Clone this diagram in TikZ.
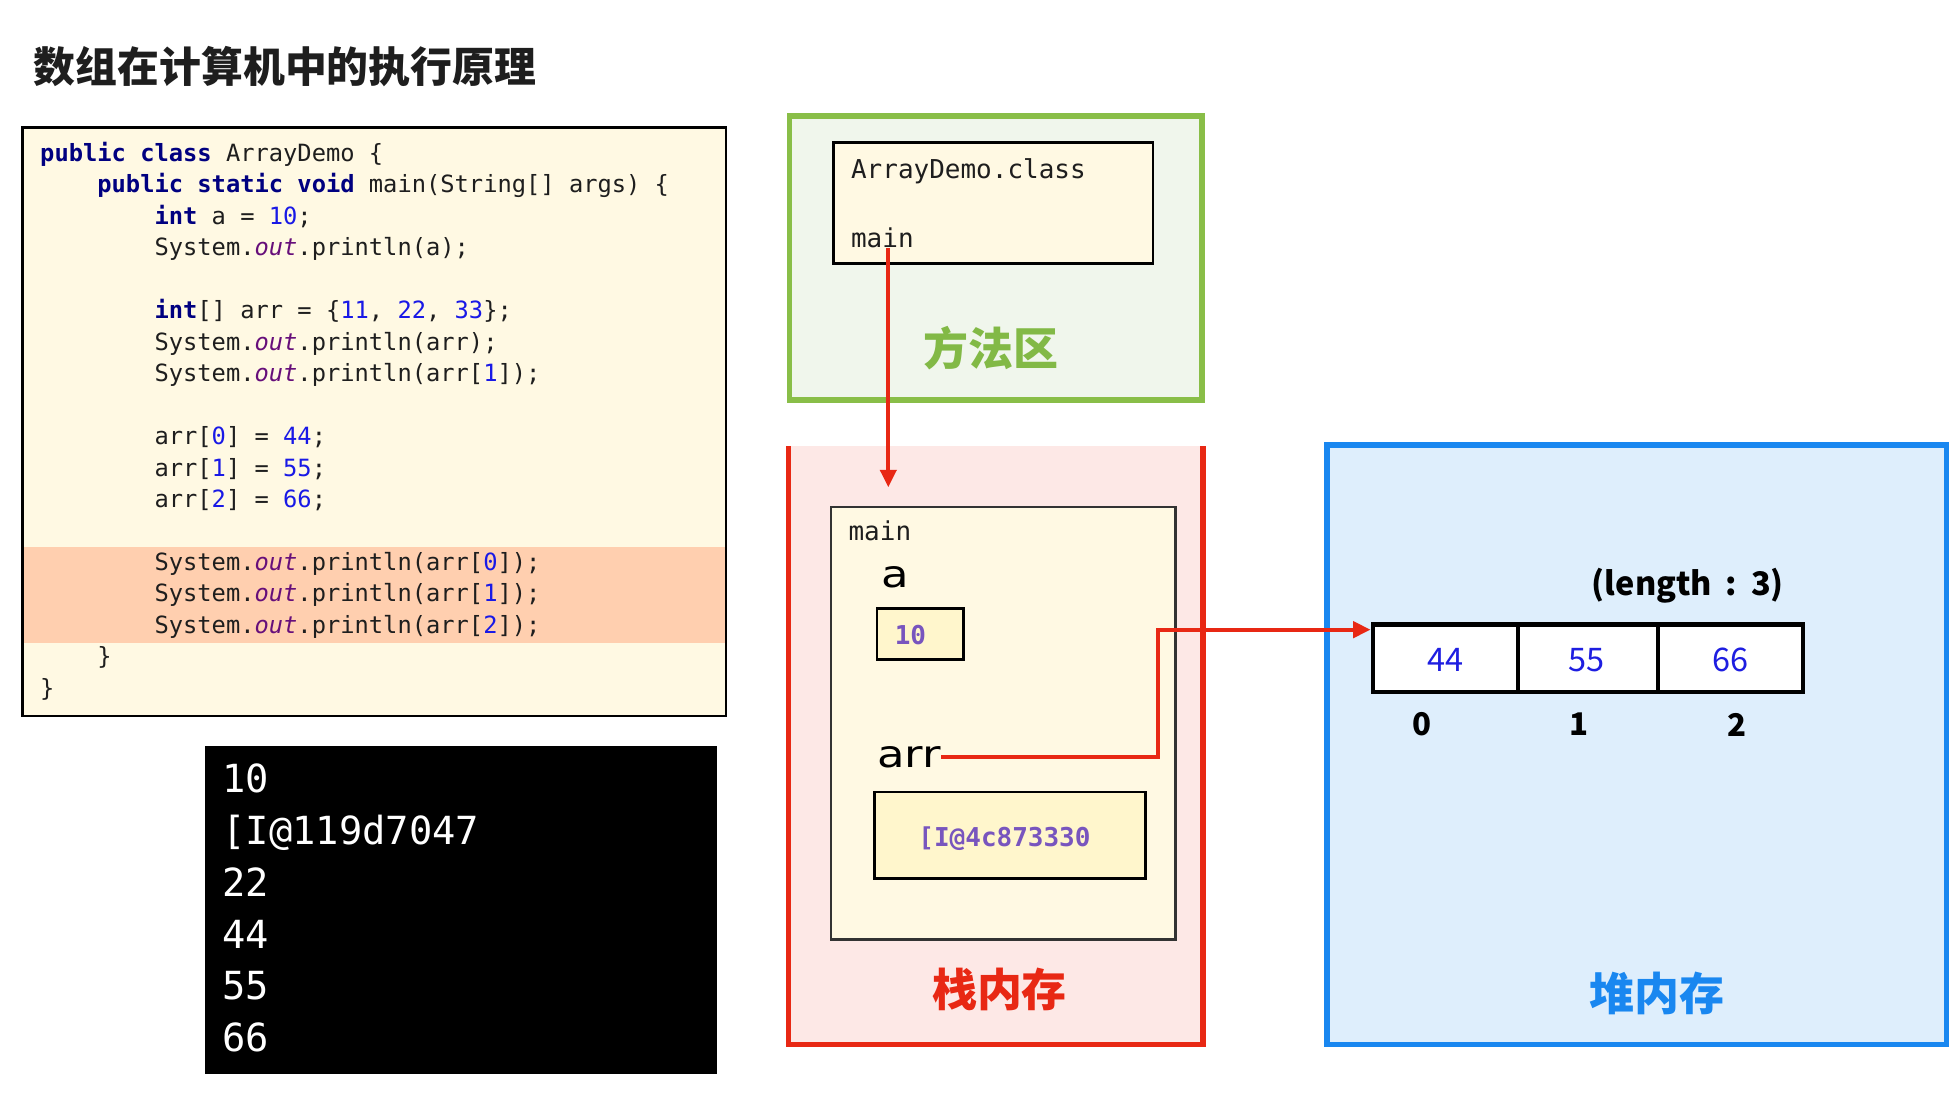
\documentclass[tikz,border=0pt]{standalone}
\usepackage{fontspec}
\setmainfont{DejaVu Sans}
\newfontfamily\cjk{Noto Sans CJK SC}
\newfontfamily\mono{DejaVu Sans Mono}
\newfontfamily\varfont{DejaVu Sans}[FakeStretch=1.2]
\usetikzlibrary{arrows.meta}
\definecolor{kwc}{RGB}{0,0,128}
\definecolor{numc}{RGB}{25,25,230}
\definecolor{outc}{RGB}{102,14,122}
\definecolor{txtc}{RGB}{30,30,30}
\definecolor{codefill}{RGB}{255,249,227}
\definecolor{hlfill}{RGB}{255,207,175}
\definecolor{greenc}{RGB}{137,190,72}
\definecolor{greenfill}{RGB}{240,246,236}
\definecolor{greentxt}{RGB}{130,185,70}
\definecolor{redc}{RGB}{232,40,20}
\definecolor{redfill}{RGB}{253,232,230}
\definecolor{bluec}{RGB}{25,135,240}
\definecolor{bluefill}{RGB}{222,238,252}
\definecolor{valfill}{RGB}{255,246,204}
\definecolor{purplec}{RGB}{120,85,190}
\definecolor{cellnum}{RGB}{30,30,225}
\newcommand\kw[1]{\textcolor{kwc}{\bfseries #1}}
\newcommand\num[1]{\textcolor{numc}{#1}}
\newcommand\fo{\textcolor{outc}{\itshape out}}
\newcommand\codeln[3]{\node[codestyle, anchor=base west] (cl#1) at ({32+#2*11.44},{129+(#1-1)*25.2}) {#3};}
\newcommand\conln[2]{\node[constyle, anchor=base west] (con#1) at (178,{634+(#1-1)*41.6}) {#2};}
\tikzset{
  plainbox/.style={rectangle, inner sep=0pt, outer sep=0pt, anchor=north west},
  codestyle/.style={inner sep=0pt, font=\mono\fontsize{19}{22}\selectfont, text=txtc},
  constyle/.style={inner sep=0pt, font=\mono\fontsize{31}{36}\selectfont, text=white},
  smallmono/.style={inner sep=0pt, font=\mono\fontsize{20.8}{24}\selectfont, text=txtc},
  valmono/.style={inner sep=0pt, font=\mono\bfseries\fontsize{20.8}{24}\selectfont, text=purplec},
  varlabel/.style={inner sep=0pt, font=\varfont\fontsize{30}{34}\selectfont, text=black},
  areatitle/.style={inner sep=0pt, font=\cjk\bfseries\fontsize{36}{40}\selectfont},
  redarrow/.style={draw=redc, line width=3pt, -{Triangle[length=14pt,width=13pt]}},
  cellval/.style={inner sep=0pt, font=\cjk\fontsize{26}{30}\selectfont, text=cellnum},
  idxlabel/.style={inner sep=0pt, font=\cjk\bfseries\fontsize{25}{30}\selectfont},
}
\begin{document}
\begin{tikzpicture}[x=1pt,y=-1pt]
\useasboundingbox (0,0) rectangle (1568,882);
\fill[white] (0,0) rectangle (1568,882);
% title
\node[inner sep=0pt, anchor=west, font=\cjk\bfseries\fontsize{33.5}{38}\selectfont, text=txtc] (title) at (27,53) {数组在计算机中的执行原理};
% code box
\node[plainbox, fill=codefill, minimum width=563pt, minimum height=471pt] (code) at (18,102) {};
\node[plainbox, fill=hlfill, minimum width=563pt, minimum height=77pt] (hl) at (18,438) {};
\draw[line width=2pt, black] (code.north west) rectangle (code.south east);
\codeln{1}{0}{\kw{public class} ArrayDemo \{}
\codeln{2}{4}{\kw{public static void} main(String[] args) \{}
\codeln{3}{8}{\kw{int} a = \num{10};}
\codeln{4}{8}{System.\fo.println(a);}
\codeln{6}{8}{\kw{int}[] arr = \{\num{11}, \num{22}, \num{33}\};}
\codeln{7}{8}{System.\fo.println(arr);}
\codeln{8}{8}{System.\fo.println(arr[\num{1}]);}
\codeln{10}{8}{arr[\num{0}] = \num{44};}
\codeln{11}{8}{arr[\num{1}] = \num{55};}
\codeln{12}{8}{arr[\num{2}] = \num{66};}
\codeln{14}{8}{System.\fo.println(arr[\num{0}]);}
\codeln{15}{8}{System.\fo.println(arr[\num{1}]);}
\codeln{16}{8}{System.\fo.println(arr[\num{2}]);}
\codeln{17}{4}{\}}
\codeln{18}{0}{\}}
% console
\node[plainbox, fill=black, minimum width=410pt, minimum height=263pt] (console) at (164,597) {};
\conln{1}{10}
\conln{2}{[I@119d7047}
\conln{3}{22}
\conln{4}{44}
\conln{5}{55}
\conln{6}{66}
% method area
\node[plainbox, fill=greenfill, draw=greenc, line width=4.5pt, minimum width=330pt, minimum height=227pt] (method) at (632,93) {};
\node[plainbox, fill=codefill, draw=black, line width=2pt, minimum width=256pt, minimum height=97pt] (classbox) at (667,114) {};
\node[smallmono, anchor=base west] (cls) at (681,143) {ArrayDemo.class};
\node[smallmono, anchor=base west] (mainM) at (681,198) {main};
\node[areatitle, text=greentxt] (methodT) at (793,279) {方法区};
% stack
\node[plainbox, fill=redfill, minimum width=332pt, minimum height=479pt] (stack) at (631,357) {};
\draw[redc, line width=4.5pt] (stack.north west) -- (stack.south west) -- (stack.south east) -- (stack.north east);
\node[plainbox, fill=codefill, draw=black!80, line width=2pt, minimum width=276pt, minimum height=346pt] (frame) at (665,406) {};
\node[smallmono, anchor=base west] (mainS) at (679,433) {main};
\node[varlabel, anchor=base west] (aL) at (705,470) {a};
\node[plainbox, fill=valfill, draw=black, line width=2pt, minimum width=69pt, minimum height=41pt] (aBox) at (702,487) {};
\node[valmono, anchor=west] (aVal) at (716,508) {10};
\node[varlabel, anchor=base west] (arrL) at (702,614) {arr};
\node[plainbox, fill=valfill, draw=black, line width=2pt, minimum width=217pt, minimum height=69pt] (arrBox) at (700,634) {};
\node[valmono] (arrVal) at (804,671) {[I@4c873330};
\node[areatitle, text=redc] (stackT) at (800,792) {栈内存};
% heap
\node[plainbox, fill=bluefill, draw=bluec, line width=4.5pt, minimum width=496pt, minimum height=480pt] (heap) at (1062,356) {};
\node[inner sep=0pt, font=\cjk\bfseries\fontsize{26}{30}\selectfont] (lenL) at (1351,469) {(length\hspace{11pt}:\hspace{11pt}3)};
\node[plainbox, fill=white, draw=black, line width=3.5pt, minimum width=116pt, minimum height=54pt] (cell0) at (1099,500) {};
\node[plainbox, fill=white, draw=black, line width=3.5pt, minimum width=112pt, minimum height=54pt] (cell1) at (1215,500) {};
\node[plainbox, fill=white, draw=black, line width=3.5pt, minimum width=116pt, minimum height=54pt] (cell2) at (1327,500) {};
\node[cellval] (v0) at (1157,528) {44};
\node[cellval] (v1) at (1270,528) {55};
\node[cellval] (v2) at (1385,528) {66};
\node[idxlabel] (i0) at (1138,580) {0};
\node[idxlabel] (i1) at (1264,580) {1};
\node[idxlabel] (i2) at (1390,580) {2};
\node[areatitle, text=bluec] (heapT) at (1326,795) {堆内存};
% connectors
\coordinate (stackIn) at (711,390);
\coordinate (turn) at (927,504);
\coordinate (heapIn) at (1097,504);
\draw[redarrow] (mainM.south -| stackIn) -- (stackIn);
\draw[redarrow] (arrL.east) -| (turn) -- (heapIn);
\end{tikzpicture}
\end{document}
